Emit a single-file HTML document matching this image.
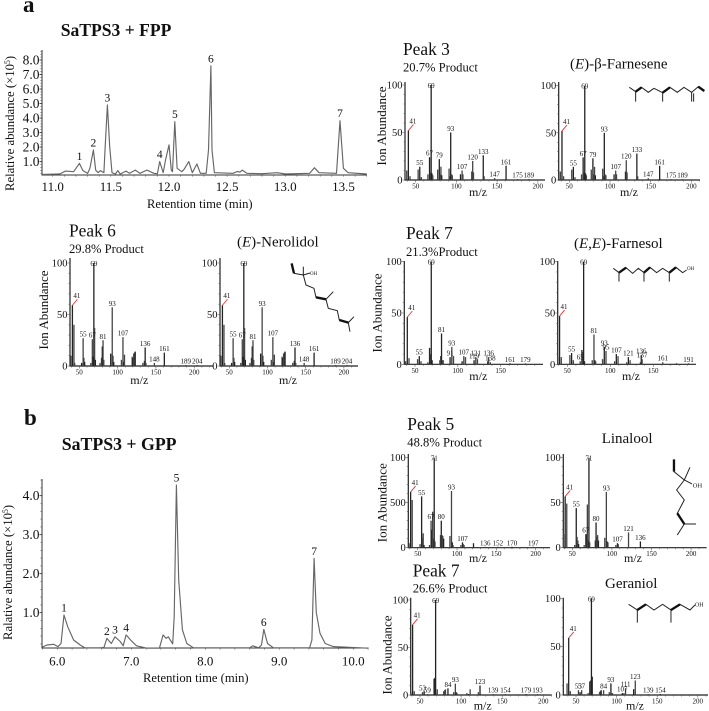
<!DOCTYPE html>
<html>
<head>
<meta charset="utf-8">
<title>SaTPS3 GC-MS chromatograms and mass spectra</title>
<style>
html,body{margin:0;padding:0;background:#fff;width:709px;height:711px;overflow:hidden}
svg{display:block;filter:blur(.3px)}
text{font-family:"Liberation Serif",serif;fill:#111}
.peak{font-size:17.4px}
.pct{font-size:12.6px}
.cmp{font-size:15px}
.ion{font-size:13px}
.mono{fill:none;stroke:#222;stroke-width:3}
.thick{fill:none;stroke:#111;stroke-width:7}
</style>
</head>
<body>
<svg id="fig" width="709" height="711" viewBox="0 0 709 711" xmlns="http://www.w3.org/2000/svg">
  <text x="23" y="12" font-size="23" font-weight="bold">a</text>
  <text x="24" y="425" font-size="23" font-weight="bold">b</text>
  <text x="60.7" y="36" font-size="17.6" font-weight="bold">SaTPS3 + FPP</text>
  <text x="61.7" y="450" font-size="17.8" font-weight="bold">SaTPS3 + GPP</text>
  <text x="147" y="208" font-size="12.6">Retention time (min)</text>
  <text x="143" y="682" font-size="12.6">Retention time (min)</text>
  <text transform="translate(14,191) rotate(-90)" font-size="12.7">Relative abundance (×10<tspan dy="-4" font-size="8">5</tspan><tspan dy="4">)</tspan></text>
  <text transform="translate(12,640) rotate(-90)" font-size="12.7">Ralative abundance (×10<tspan dy="-4" font-size="8">5</tspan><tspan dy="4">)</tspan></text>

  <text class="peak" x="403" y="55">Peak 3</text>
  <text class="pct" x="403" y="71.7">20.7% Product</text>
  <text class="cmp" x="570" y="68.3">(<tspan font-style="italic">E</tspan>)-β-Farnesene</text>
  <text class="peak" x="69" y="236.7">Peak 6</text>
  <text class="pct" x="69" y="253">29.8% Product</text>
  <text class="cmp" x="237" y="246.7">(<tspan font-style="italic">E</tspan>)-Nerolidol</text>
  <text class="peak" x="406" y="239">Peak 7</text>
  <text class="pct" x="406" y="256">21.3%Product</text>
  <text class="cmp" x="574" y="248">(<tspan font-style="italic">E,E</tspan>)-Farnesol</text>
  <text class="peak" x="407.3" y="430">Peak 5</text>
  <text class="pct" x="407.3" y="446.7">48.8% Product</text>
  <text class="cmp" x="601.7" y="443">Linalool</text>
  <text class="peak" x="412.7" y="576.7">Peak 7</text>
  <text class="pct" x="412.7" y="592.3">26.6% Product</text>
  <text class="cmp" x="605" y="588">Geraniol</text>

  <g transform="translate(370,30) scale(.3333)">
    <polyline class="mono" points="778,172 797,185 815,172 835,187 852,175 878,188 900,172 922,187 942,172 965,187 985,170 1003,183"/>
    <path class="mono" d="M797,185V215M878,188V215M965,187V215M971,190V215"/>
    <path class="thick" d="M797,185L815,172M878,188L900,172M985,170L1003,183"/>
  </g>
  <g transform="translate(0,210) scale(.3333)">
    <polyline class="mono" points="882,190 910,195 918,225 942,235 948,262 978,268 985,295 1012,302 1018,330 1045,338 1050,365"/>
    <path class="mono" d="M910,195V170M910,195L930,189M978,268L1000,245M1045,338L1062,320"/>
    <path class="thick" d="M875,160L882,190M948,262L978,268M1018,330L1045,338"/>
    <text x="930" y="195" font-size="15">OH</text>
  </g>
  <g transform="translate(370,210) scale(.3333)">
    <polyline class="mono" points="730,175 747,188 768,173 788,190 805,175 822,188 840,172 860,188 878,175 898,188 918,172 938,188 950,180"/>
    <path class="mono" d="M747,188V215M822,188V215M898,188V215"/>
    <path class="thick" d="M747,188L768,173M822,188L840,172M898,188L918,172"/>
    <text x="951" y="180" font-size="15">OH</text>
  </g>
  <g transform="translate(370,410) scale(.3333)">
    <polyline class="mono" points="912,185 943,210 920,240 943,270 922,310 943,342 978,342"/>
    <path class="mono" d="M943,210L960,172M943,210L966,222M943,342L922,375"/>
    <path class="thick" d="M912,148V185M922,310L943,342"/>
    <text x="968" y="232" font-size="20">OH</text>
  </g>
  <g transform="translate(370,555) scale(.3333)">
    <polyline class="mono" points="776,148 802,165 828,148 852,165 878,148 903,165 930,148 960,165 975,150"/>
    <path class="mono" d="M802,165V203M903,165V203"/>
    <path class="thick" d="M802,165L828,148M903,165L930,148"/>
    <text x="975" y="155" font-size="18">OH</text>
  </g>
</svg>
<script>
// Chromatogram A (SaTPS3 + FPP)
const fppTimes=[10.91,11.06,11.11,11.18,11.20,11.23,11.26,11.30,11.32,11.35,11.37,11.39,11.41,11.44,11.45,11.47,11.49,11.51,11.54,11.56,11.58,11.63,11.66,11.71,11.75,11.81,11.87,11.90,11.92,11.95,11.97,12.00,12.02,12.03,12.05,12.07,12.11,12.13,12.17,12.20,12.24,12.27,12.32,12.34,12.36,12.37,12.39,12.55,12.59,12.61,12.63,12.67,12.80,12.93,13.00,13.21,13.25,13.29,13.44,13.47,13.50,13.54,13.70];
const fppAbundance=[0.12,0.15,0.35,0.31,0.54,0.88,0.38,0.19,0.54,1.80,0.42,0.24,0.38,0.24,1.80,4.90,2.03,0.24,0.15,0.38,0.15,0.35,0.20,0.42,0.20,0.42,0.20,0.17,1.00,0.24,1.10,2.15,0.42,0.31,3.75,0.54,0.31,0.47,1.00,0.24,0.84,0.20,0.20,1.80,7.60,1.80,0.24,0.20,0.33,0.27,0.42,0.20,0.17,0.24,0.15,0.20,0.58,0.24,0.20,3.82,0.54,0.24,0.15];
const fppXTicks=[11.0,11.5,12.0,12.5,13.0,13.5];
const fppYTicks=[1,2,3,4,5,6,7,8];
const fppPeakNumbers=["1","2","3","4","5","6","7"];
const fppPeakTimes=[11.23,11.35,11.47,11.92,12.05,12.36,13.47];
const fppPeakHeights=[0.88,1.80,4.90,1.00,3.75,7.60,3.82];

// Chromatogram B (SaTPS3 + GPP)
const gppTimes=[5.80,5.86,5.95,6.01,6.05,6.09,6.14,6.22,6.31,6.37,6.58,6.63,6.67,6.73,6.78,6.85,6.89,6.93,6.99,7.07,7.21,7.38,7.43,7.47,7.50,7.56,7.58,7.61,7.64,7.69,7.75,7.84,8.60,8.64,8.72,8.76,8.79,8.84,8.92,9.41,9.44,9.47,9.50,9.55,9.62,9.73,10.20];
const gppAbundance=[0.12,0.17,0.19,0.13,0.21,0.94,0.64,0.30,0.17,0.10,0.10,0.11,0.34,0.21,0.38,0.26,0.15,0.43,0.30,0.15,0.09,0.09,0.43,0.34,0.38,0.20,0.90,4.27,1.84,0.56,0.21,0.10,0.10,0.15,0.10,0.17,0.57,0.21,0.10,0.10,0.30,2.39,1.00,0.47,0.21,0.13,0.09];
const gppXTicks=[6,7,8,9,10];
const gppYTicks=[1,2,3,4];
const gppPeakNumbers=["1","2","3","4","5","6","7"];
const gppPeakTimes=[6.09,6.67,6.78,6.93,7.61,8.79,9.47];
const gppPeakHeights=[0.94,0.34,0.38,0.43,4.27,0.57,2.39];

// Mass spectra
const peak3Mz=[39,41,43,53,55,57,65,67,68,69,70,71,77,79,80,81,82,91,92,93,94,95,105,107,108,119,120,121,133,134,147,161,175,189];
const peak3Ab=[10,52,4,11,14,3,6,24,8,100,7,5,11,22,6,14,5,12,4,50,6,5,6,10,6,9,20,8,26,4,2,15,1,1];
const peak3Labels=[41,55,67,69,79,93,107,120,133,147,161,175,189];
const farneseneMz=[39,41,43,53,55,57,65,67,68,69,70,71,77,79,80,81,82,91,92,93,94,95,105,107,108,119,120,121,133,134,147,161,175,189];
const farneseneAb=[9,52,4,11,14,3,6,24,8,100,7,5,11,23,6,14,5,12,4,50,6,5,6,10,6,9,21,8,28,4,2,15,1,1];
const farneseneLabels=[41,55,67,69,79,93,107,120,133,147,161,175,189];
const peak6Mz=[39,41,43,44,53,55,56,57,65,67,68,69,70,71,77,79,80,81,82,91,93,94,95,105,107,108,109,119,120,121,122,123,133,135,136,137,148,161,189,204];
const peak6Ab=[10,59,40,3,3,27,8,4,3,26,9,100,37,6,3,8,19,25,6,12,57,10,4,6,28,4,11,9,8,12,13,14,3,5,18,3,3,13,1,1];
const peak6Labels=[41,55,67,69,81,93,107,136,148,161,189,204];
const nerolidolMz=[39,41,43,44,53,55,56,57,65,67,68,69,70,71,77,79,80,81,82,91,93,94,95,105,107,108,109,119,120,121,122,123,133,135,136,137,148,161,189,204];
const nerolidolAb=[10,59,40,3,3,27,8,4,3,26,9,100,37,6,3,8,19,25,6,12,57,10,4,6,28,4,11,9,8,12,13,14,3,5,18,3,3,13,1,1];
const nerolidolLabels=[41,55,67,69,81,93,107,136,148,161,189,204];
const peak7FppMz=[39,41,43,53,55,57,65,67,68,69,70,79,80,81,82,83,91,93,95,105,107,109,119,121,123,135,136,138,161,179];
const peak7FppAb=[3,46,6,5,8,3,2,16,10,100,4,4,8,30,4,4,7,17,8,3,8,7,4,7,5,3,7,2,1,1];
const peak7FppLabels=[41,55,69,81,91,93,107,119,121,136,138,161,179];
const farnesolMz=[39,41,43,53,55,57,65,67,68,69,70,79,81,82,83,91,93,95,105,107,109,119,121,123,135,136,137,161,177,191];
const farnesolAb=[7,47,7,9,11,4,3,14,12,100,3,4,29,4,3,5,17,13,3,10,8,2,7,4,2,9,5,2,1,1];
const farnesolLabels=[41,55,65,69,81,93,95,107,121,136,137,161,191];
const peak5Mz=[39,41,43,53,55,56,57,58,65,67,68,69,70,71,72,79,80,81,82,83,91,93,94,95,105,107,108,109,121,136,152,170,197];
const peak5Ab=[5,62,53,4,57,11,16,3,3,30,20,40,10,100,7,14,30,14,13,10,13,63,6,3,3,6,4,3,5,1,1,1,1];
const peak5Labels=[41,55,67,71,80,93,107,136,152,170,197];
const linaloolMz=[39,41,43,53,55,56,57,58,65,67,68,69,70,71,72,79,80,81,82,83,91,93,94,95,105,107,108,121,136];
const linaloolAb=[15,57,49,3,44,12,8,4,3,15,15,48,8,100,6,8,28,12,14,8,11,62,7,6,3,5,4,17,7];
const linaloolLabels=[41,55,67,71,80,93,107,121,136];
const peak7GppMz=[39,41,43,53,55,59,67,68,69,71,79,80,81,84,91,93,94,95,107,109,111,121,123,139,154,179,193];
const peak7GppAb=[3,74,4,3,4,1,17,18,100,6,4,5,6,7,3,12,3,2,2,1,6,3,10,1,1,1,1];
const peak7GppLabels=[41,53,59,69,84,93,123,139,154,179,193];
const geraniolMz=[39,41,43,53,55,57,65,67,68,69,70,79,80,81,84,91,93,94,95,107,109,111,121,123,139,154];
const geraniolAb=[12,59,4,5,3,5,2,14,15,100,19,3,4,5,5,3,12,2,2,2,2,7,6,15,1,1];
const geraniolLabels=[41,53,57,69,84,93,107,111,123,139,154];

const SVGNS="http://www.w3.org/2000/svg";
const fig=document.getElementById("fig");
function make(parent,tag,attrs,content){
  const el=document.createElementNS(SVGNS,tag);
  for(const k in attrs)el.setAttribute(k,attrs[k]);
  if(content!==undefined)el.textContent=content;
  parent.appendChild(el);
  return el;
}
function group(name){
  const g=make(fig,"g",{});
  
  
  return g;
}

function chromatogram(name,cfg,times,abund,xTicks,yTicks,peakNums,peakT,peakH){
  const g=group(name);
  const X=t=>cfg.x0+(t-cfg.t0)*cfg.xs;
  const Y=v=>cfg.y1-(v-1)*cfg.ys;
  const ax=make(g,"path",{d:`M${cfg.left} ${cfg.top}V${cfg.base}H${cfg.right}`,fill:"none",stroke:"#333","stroke-width":1});
  
  
  let d="";
  const tStart=cfg.t0-Math.floor((cfg.x0-cfg.left)/cfg.xs/cfg.xMinor)*cfg.xMinor;
  for(let t=tStart;X(t)<=cfg.right;t+=cfg.xMinor){d+=`M${X(t).toFixed(1)} ${cfg.base}v1.6`;}
  for(let v=0.2;Y(v)>cfg.top;v+=cfg.yMinor){d+=`M${cfg.left} ${Y(v).toFixed(1)}h-1.6`;}
  const mt=make(g,"path",{d:d,fill:"none",stroke:"#555","stroke-width":.6});
  
  
  xTicks.forEach(t=>{
    const lab=make(g,"text",{x:X(t),y:cfg.base+cfg.tickDy,"font-size":13,"text-anchor":"middle"},t.toFixed(1));
    
    
  });
  yTicks.forEach(v=>{
    const lab=make(g,"text",{x:cfg.left-2.5,y:Y(v)+4.5,"font-size":13.5,"text-anchor":"end"},v.toFixed(1));
    
    
    const tk=make(g,"line",{x1:cfg.left-2.5,x2:cfg.left,y1:Y(v),y2:Y(v),stroke:"#333","stroke-width":.8});
    
    
  });
  const pts=times.map((t,i)=>X(t).toFixed(1)+","+Y(abund[i]).toFixed(1)).join(" ");
  const line=make(g,"polyline",{points:pts,fill:"none",stroke:"#666","stroke-width":1.15,"stroke-linejoin":"round"});
  
  
  peakNums.forEach((n,i)=>{
    const lab=make(g,"text",{x:X(peakT[i]),y:Y(peakH[i])-3.5,"font-size":11.5,"text-anchor":"middle"},n);
    
    
  });
}

function spectrum(name,cfg,mz,ab,labels){
  const g=group(name);
  const X=m=>cfg.x50+(m-50)*cfg.per50/50;
  const Y=v=>cfg.y0-v*(cfg.y0-cfg.y100)/100;
  const ax=make(g,"path",{d:`M${cfg.axis} ${cfg.top}V${cfg.y0}H${cfg.end}`,fill:"none",stroke:"#222","stroke-width":1.2});
  
  
  let d="";
  for(let v=0;v<=100;v+=10){d+=`M${cfg.axis} ${Y(v).toFixed(1)}h${v%50==0?-2.5:-1.5}`;}
  for(let m=40;X(m)<cfg.end;m+=10){d+=`M${X(m).toFixed(1)} ${cfg.y0}v${m%50==0?2.5:1.5}`;}
  const tk=make(g,"path",{d:d,fill:"none",stroke:"#555","stroke-width":.6});
  
  
  (cfg.xTicks).forEach(m=>{
    const lab=make(g,"text",{x:X(m),y:cfg.y0+8.5,"font-size":7,"text-anchor":"middle",fill:"#333"},String(m));
    
    
  });
  (cfg.yLabels).forEach((txt,i)=>{
    const v=[100,50,0][i];
    const lab=make(g,"text",{x:cfg.axis-2.5,y:Y(v)+3.5,"font-size":10.5,"text-anchor":"end"},txt);
    
    
  });
  mz.forEach((m,i)=>{
    const bar=make(g,"line",{x1:X(m),x2:X(m),y1:cfg.y0,y2:Y(ab[i]),stroke:ab[i]>90||i%3==1?"#222":"#444","stroke-width":1.3});
    
    
  });
  labels.forEach(m=>{
    const v=ab[mz.indexOf(m)];
    let lx=X(m),ly=Math.max(Y(v)-1.5,cfg.y100+3);
    if(m===41){
      const lead=make(g,"line",{x1:X(m),y1:Y(v),x2:X(m)+5,y2:Y(v)-6,stroke:"#d8383a","stroke-width":.9});
      
      
      lx=X(m)+4.5;ly=Y(v)-7;
    }
    const lab=make(g,"text",{x:lx,y:ly,"font-size":7,"text-anchor":"middle",fill:"#333"},String(m));
    
    
  });
  const mzt=make(g,"text",{x:cfg.mzX,y:cfg.mzY,"font-size":12,"text-anchor":"middle"},"m/z");
  
  
  if(cfg.ionX){
    const t=make(g,"text",{transform:`translate(${cfg.ionX},${cfg.ionY}) rotate(-90)`,"font-size":13,"text-anchor":"middle"},"Ion Abundance");
    
    
  }
}

chromatogram("fpp-chromatogram",{x0:52.7,t0:11,xs:116.3,y1:161.64,ys:14.52,left:42,right:367,top:50,base:175,xMinor:.1,yMinor:.2,tickDy:16},fppTimes,fppAbundance,fppXTicks,fppYTicks,fppPeakNumbers,fppPeakTimes,fppPeakHeights);
chromatogram("gpp-chromatogram",{x0:57.3,t0:6,xs:74,y1:612.67,ys:39,left:42,right:368.5,top:479,base:648,xMinor:.2,yMinor:.2,tickDy:17.5},gppTimes,gppAbundance,gppXTicks,gppYTicks,gppPeakNumbers,gppPeakTimes,gppPeakHeights);

const T4=[50,100,150,200],T3=[50,100,150];
const YL=["100","50","0"];
spectrum("peak3-spectrum",{axis:405,top:82,y100:85,y0:180,x50:415.7,per50:40.7,end:545,xTicks:T4,yLabels:YL,mzX:478,mzY:196,ionX:386,ionY:126},peak3Mz,peak3Ab,peak3Labels);
spectrum("farnesene-spectrum",{axis:558.7,top:82,y100:85.7,y0:180,x50:569.3,per50:40.7,end:700,xTicks:T4,yLabels:YL,mzX:629,mzY:196},farneseneMz,farneseneAb,farneseneLabels);
spectrum("peak6-spectrum",{axis:70,top:258,y100:263,y0:366,x50:79.3,per50:38.3,end:213,xTicks:T4,yLabels:YL,mzX:139.3,mzY:384,ionX:48,ionY:310},peak6Mz,peak6Ab,peak6Labels);
spectrum("nerolidol-spectrum",{axis:220,top:258,y100:263,y0:366,x50:229.3,per50:38.2,end:358,xTicks:T4,yLabels:YL,mzX:288,mzY:384},nerolidolMz,nerolidolAb,nerolidolLabels);
spectrum("peak7-fpp-spectrum",{axis:404.3,top:261,y100:261.7,y0:364.3,x50:415,per50:42.8,end:543,xTicks:T3,yLabels:YL,mzX:478.3,mzY:380,ionX:381.7,ionY:313},peak7FppMz,peak7FppAb,peak7FppLabels);
spectrum("farnesol-spectrum",{axis:557.7,top:261,y100:261.7,y0:364.3,x50:567.3,per50:43,end:696,xTicks:T3,yLabels:YL,mzX:631,mzY:380},farnesolMz,farnesolAb,farnesolLabels);
spectrum("peak5-spectrum",{axis:408.3,top:454,y100:457.7,y0:547.7,x50:417.7,per50:39.3,end:550,xTicks:T4,yLabels:["100","500","0"],mzX:478,mzY:562,ionX:386.6,ionY:502.7},peak5Mz,peak5Ab,peak5Labels);
spectrum("linalool-spectrum",{axis:563.3,top:454,y100:457.7,y0:547.7,x50:572.3,per50:39.6,end:706.7,xTicks:T4,yLabels:YL,mzX:633,mzY:562},linaloolMz,linaloolAb,linaloolLabels);
spectrum("peak7-gpp-spectrum",{axis:410.7,top:597.7,y100:600,y0:695,x50:420,per50:41.1,end:551.7,xTicks:T4,yLabels:YL,mzX:482.7,mzY:709.5,ionX:391.7,ionY:655},peak7GppMz,peak7GppAb,peak7GppLabels);
spectrum("geraniol-spectrum",{axis:563.3,top:597.7,y100:598.3,y0:695,x50:576,per50:40.6,end:708,xTicks:T4,yLabels:YL,mzX:635,mzY:709.5},geraniolMz,geraniolAb,geraniolLabels);
</script>
</body>
</html>
